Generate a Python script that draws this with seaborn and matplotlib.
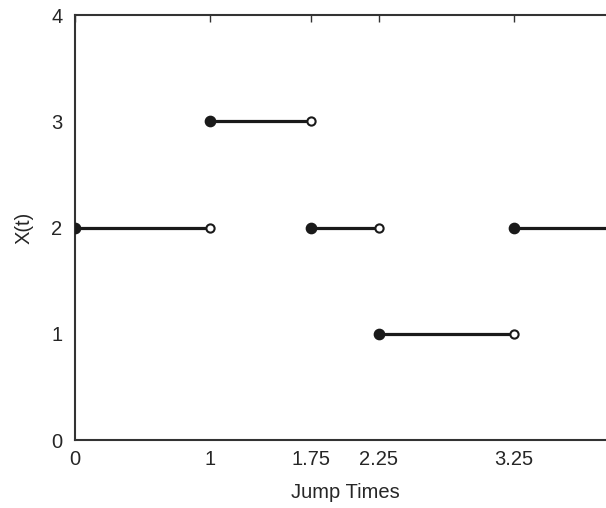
import pandas as pd
import matplotlib.pyplot as plt
import seaborn as sns

# step path: value held on [start, end)
starts = [0, 1, 1.75, 2.25, 3.25]
ends = [1, 1.75, 2.25, 3.25, 4]
states = [2, 3, 2, 1, 2]
tick_pos = [0, 1, 1.75, 2.25, 3.25]
tick_labels = ['0', '1', '1.75', '2.25', '3.25']

sns.set_style('white')
plt.rcParams['font.family'] = ['Liberation Sans', 'DejaVu Sans']

rows = []
for i, (a, b, s) in enumerate(zip(starts, ends, states)):
    rows.append({'seg': i, 't': a, 'x': s})
    rows.append({'seg': i, 't': b, 'x': s})
seg_df = pd.DataFrame(rows)

fig = plt.figure(figsize=(6.06, 5.08), dpi=100)
# axes run past the right edge of the figure, like the cropped original
ax = fig.add_axes([75 / 606, 68 / 508, 540 / 606, 425 / 508])

sns.lineplot(data=seg_df, x='t', y='x', units='seg', estimator=None,
             color='#1a1a1a', linewidth=2.3, ax=ax)

closed = pd.DataFrame({'t': starts, 'x': states})
opened = pd.DataFrame({'t': ends[:-1], 'x': states[:-1]})
sns.scatterplot(data=closed, x='t', y='x', color='#1a1a1a', s=55,
                edgecolor='#1a1a1a', linewidth=1, zorder=3, ax=ax)
sns.scatterplot(data=opened, x='t', y='x', color='white', s=35,
                edgecolor='#1a1a1a', linewidth=1.5, zorder=3, ax=ax)

ax.set_xlim(0, 4)
ax.set_ylim(0, 4)
ax.set_xticks(tick_pos)
ax.set_xticklabels(tick_labels)
ax.set_yticks([0, 1, 2, 3, 4])
ax.tick_params(direction='in', top=True, right=True, length=5, width=1,
               color='#333333', labelsize=14.5)
ax.tick_params(axis='x', pad=7.5)
ax.tick_params(axis='y', pad=9)
for sp in ax.spines.values():
    sp.set_color('#333333')
    sp.set_linewidth(1.5)
ax.set_xlabel('Jump Times', fontsize=14.5, labelpad=10)
ax.set_ylabel('X(t)', fontsize=14.5, labelpad=13)

fig.savefig('out.png', dpi=100)
